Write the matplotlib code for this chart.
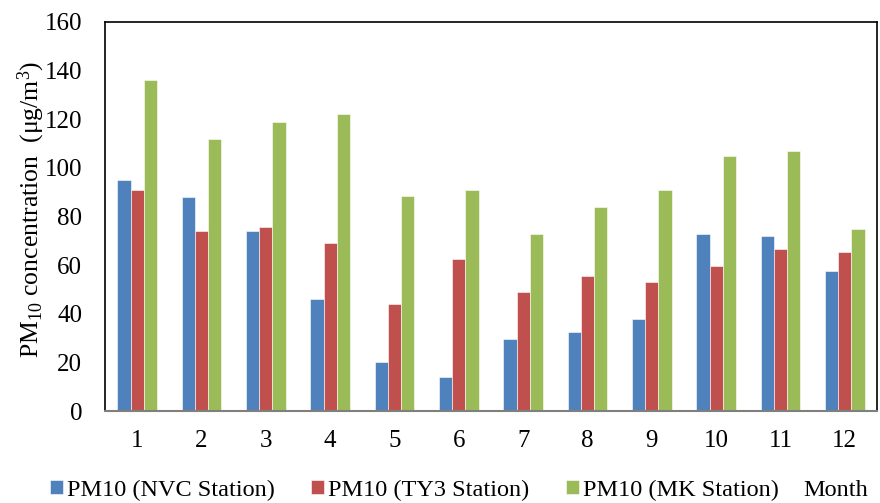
import matplotlib.pyplot as plt
import numpy as np

plt.rcParams['font.family'] = 'Liberation Serif'
plt.rcParams['mathtext.fontset'] = 'custom'
plt.rcParams['mathtext.rm'] = 'Liberation Serif'
plt.rcParams['mathtext.it'] = 'Liberation Serif:italic'

months = ['1', '2', '3', '4', '5', '6', '7', '8', '9', '10', '11', '12']
nvc = [95, 88, 74, 46, 20, 14, 29.6, 32.5, 38, 72.8, 72, 57.6]
ty3 = [91, 74, 75.5, 69, 44, 62.5, 49, 55.5, 53, 59.7, 66.7, 65.4]
mk = [136, 112, 119, 122, 88.5, 91, 72.8, 84, 91, 105, 107, 75]

series_names = ['PM10 (NVC Station)', 'PM10 (TY3 Station)', 'PM10 (MK Station)']
colors = ['#4F81BD', '#C0504D', '#9BBB59']

fig = plt.figure(figsize=(8.8, 5.03), dpi=100)
ax = fig.add_axes([105 / 880, 92 / 503, 772 / 880, 389 / 503])

x = np.arange(len(months))
w = 0.205
for i, (vals, name, c) in enumerate(zip([nvc, ty3, mk], series_names, colors)):
    ax.bar(x + (i - 1) * w, vals, width=w, color=c, label=name,
           edgecolor='white', linewidth=0.4)

ax.set_xlim(-0.5, len(months) - 0.5)
ax.set_ylim(0, 160)
ax.set_yticks(np.arange(0, 161, 20))
ax.set_xticks(x)
ax.set_xticklabels(months)
ax.tick_params(axis='both', length=0, labelsize=18)
ax.tick_params(axis='y', pad=16.5)
ax.tick_params(axis='x', pad=14)

for side in ['left', 'top', 'right']:
    ax.spines[side].set_color('black')
    ax.spines[side].set_linewidth(1.2)
ax.spines['bottom'].set_color('#7f7f7f')
ax.spines['bottom'].set_linewidth(1.5)

ax.set_ylabel('PM$_{10}$ concentration  (\u03bcg/m$^3$)', fontsize=18.5,
              va='center', ha='center')
ax.yaxis.set_label_coords(-0.095, 0.517)

fig.legend(loc='center left', bbox_to_anchor=(50 / 880, 13 / 503), ncol=3,
           frameon=False, fontsize=17.5, handlelength=0.53, handleheight=0.53,
           handletextpad=0.17, columnspacing=1.5, borderpad=0, borderaxespad=0)
fig.text(803 / 880, 13 / 503, 'Month', fontsize=17.5, ha='left', va='center')

fig.savefig('out.png', dpi=100)
